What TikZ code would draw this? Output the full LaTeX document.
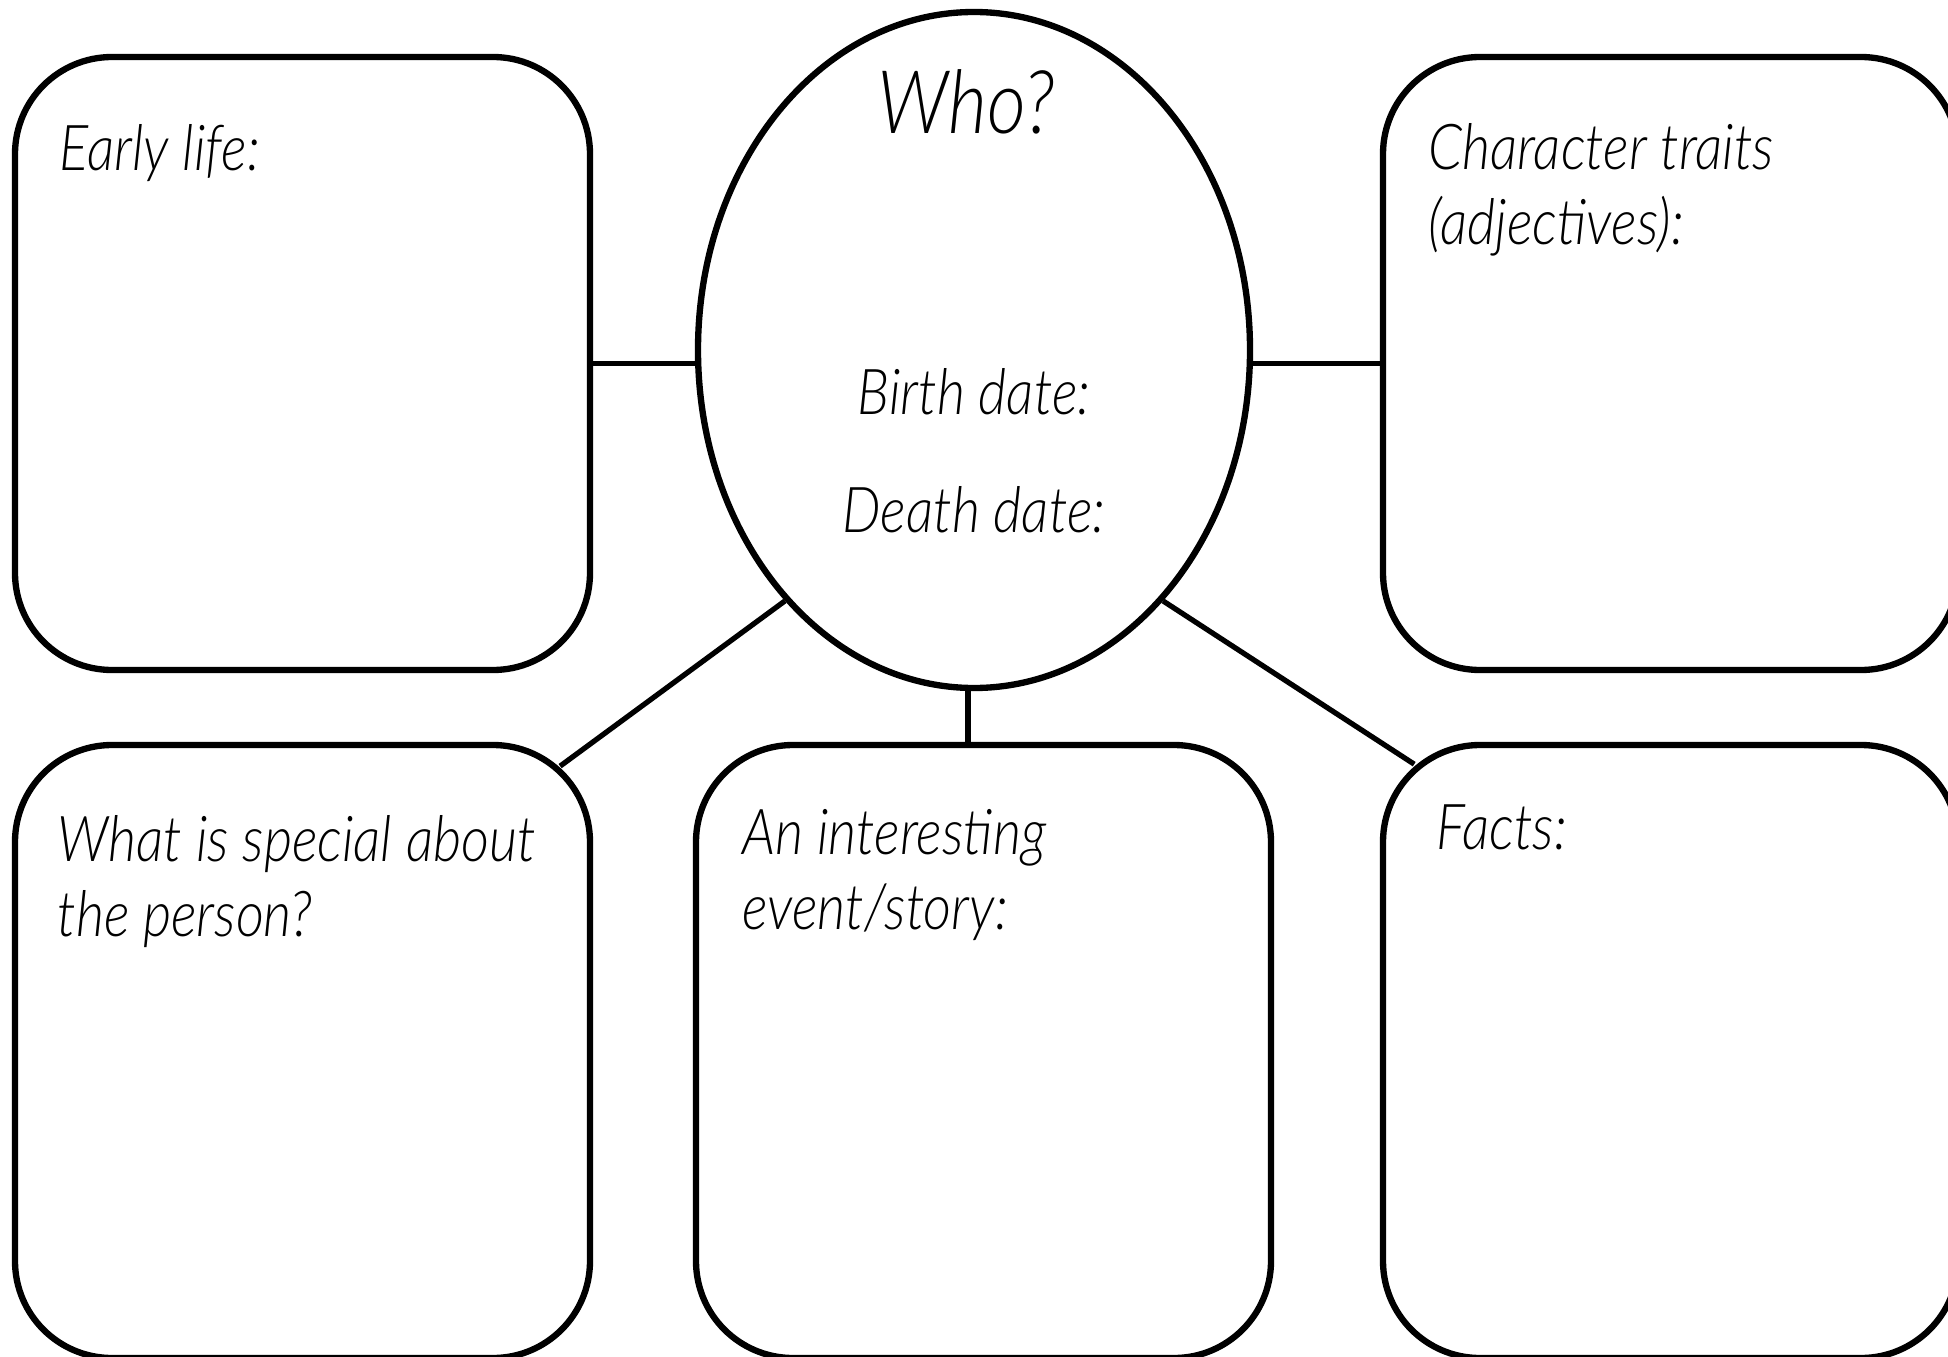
\documentclass[tikz,border=0pt]{standalone}
\usepackage{fontspec}
\setmainfont{Lato Light}[FakeStretch=0.86]
\usetikzlibrary{shapes.geometric, positioning}

\begin{document}
\begin{tikzpicture}[node distance=6.88cm, on grid,
        box/.style={draw, fill=white, line width=1.8pt, rounded corners=0.97cm,
            minimum width=5.75cm, minimum height=6.13cm},
        bubble/.style={draw, ellipse, line width=1.8pt, inner sep=0pt,
            minimum width=5.52cm, minimum height=6.76cm},
        prompt/.style={inner sep=0pt, align=left,
            font=\itshape\fontsize{18pt}{21.3pt}\selectfont},
        link/.style={line width=1.5pt}]
        \useasboundingbox (0,0) rectangle (19.48,-13.57);

        % the person in the middle, five boxes round it
        \node[bubble] (who) at (9.74,-3.50) {};
        \node[box] (early) at (3.025,-3.635) {};
        \node[box] (traits) [right=13.68cm of early] {};
        \node[box] (special) [below=of early] {};
        \node[box] (story) [right=6.81cm of special] {};
        \node[box] (facts) [right=6.87cm of story] {};

        \node[anchor=base, inner sep=0pt, font=\itshape\fontsize{25pt}{30pt}\selectfont]
            (who-title) at ([shift={(-0.08,-1.25)}]who.north) {Who?};
        \node[prompt, anchor=base] (birth) at ([yshift=-0.64cm]who.center) {Birth date:};
        \node[prompt, anchor=base] (death) at ([yshift=-1.82cm]who.center) {Death date:};

        \node[prompt, anchor=north west] (early-text) at ([shift={(0.47,-0.70)}]early.north west) {Early life:};
        \node[prompt, anchor=north west] (traits-text) at ([shift={(0.48,-0.69)}]traits.north west) {Character traits\\(adjectives):};
        \node[prompt, anchor=north west] (special-text) at ([shift={(0.45,-0.73)}]special.north west) {What is special about\\the person?};
        \node[prompt, anchor=north west] (story-text) at ([shift={(0.49,-0.67)}]story.north west) {An interesting\\event/story:};
        \node[prompt, anchor=north west] (facts-text) at ([shift={(0.56,-0.62)}]facts.north west) {Facts:};

        % spokes
        \draw[link] (early.east) -- (who.west |- early.east);
        \draw[link] (who.east |- traits.west) -- (traits.west);
        \draw[link, shorten >=-0.41cm] (who.233) -- (special.north east);
        \draw[link] (who.269) -- (who.269 |- story.north);
        \draw[link, shorten >=-0.41cm] (who.307) -- (facts.north west);
    \end{tikzpicture}
\end{document}
